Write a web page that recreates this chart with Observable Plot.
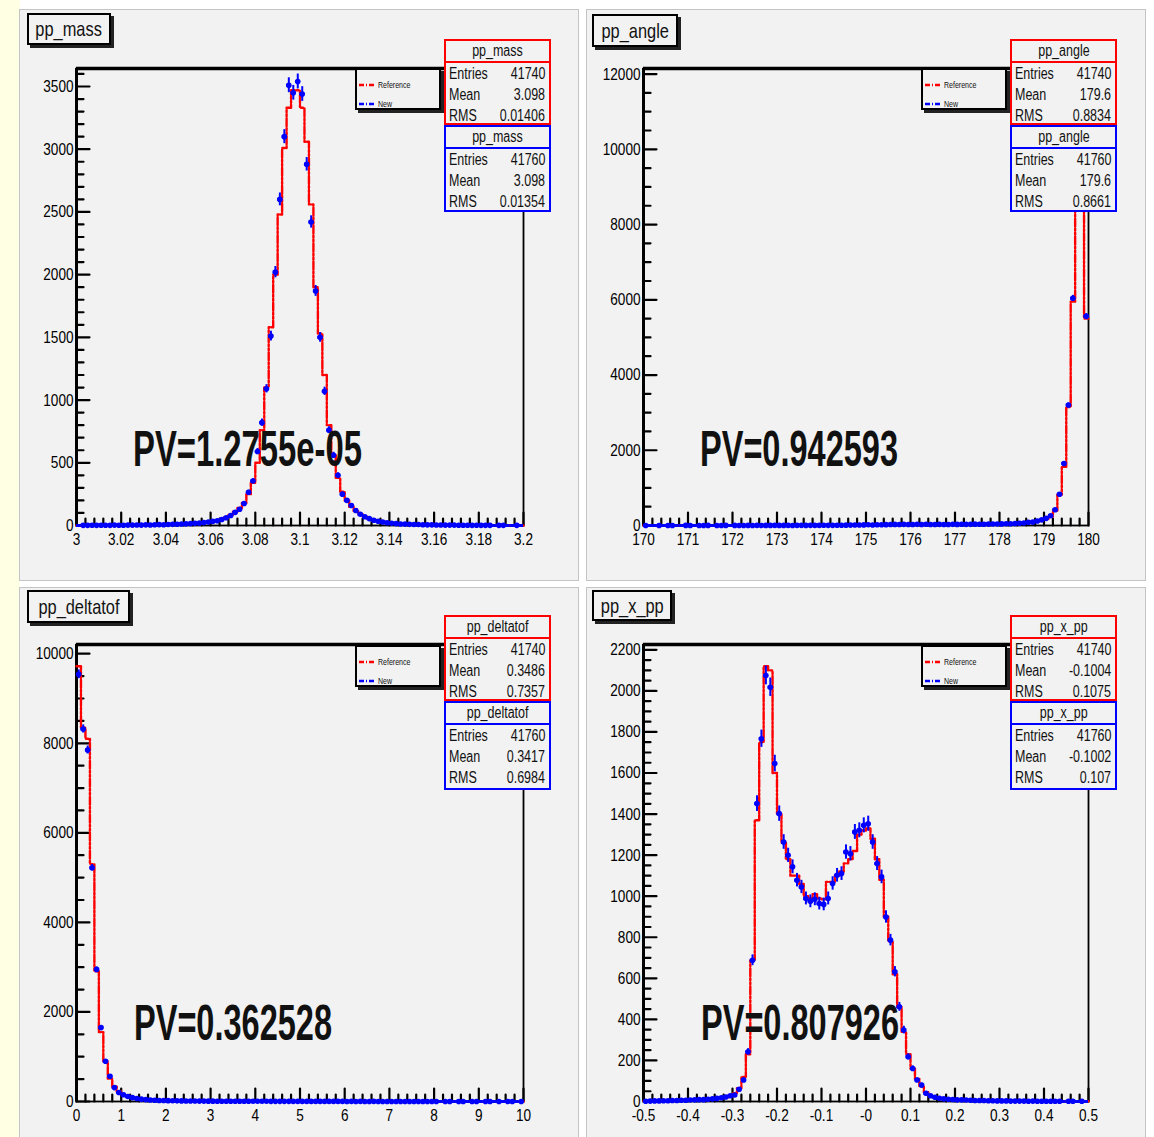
<!DOCTYPE html>
<html>
<head>
<meta charset="utf-8">
<script src="https://cdn.jsdelivr.net/npm/d3@7"></script>
<script src="https://cdn.jsdelivr.net/npm/@observablehq/plot@0.6"></script>
<style>
  html, body { margin: 0; padding: 0; background: #ffffff; }
  #page { position: relative; width: 1154px; height: 1137px; overflow: hidden; background: #ffffff;
          font-family: "Liberation Sans", Arial, sans-serif; color: #111; }
  .strip { position: absolute; left: 0; top: 0; width: 20px; height: 1137px; background: #ffffe4; }
  .panel { position: absolute; background: #f2f2f2; outline: 1px solid #c4c4c4; }
  .panel svg { position: absolute; left: 0; top: 0; overflow: visible; }
  .ov { position: absolute; box-sizing: border-box; }
  .title { border: 2px solid #000; box-shadow: 3px 3px 0 #222; background: #f2f2f2;
           font-size: 21px; display: flex; align-items: center; justify-content: center; overflow: visible; white-space: nowrap; }
  .legend { border: 2px solid #000; box-shadow: 3px 3px 0 #222; background: #f2f2f2; font-size: 9px; padding-top: 5px; }
  .legrow { display: flex; align-items: center; height: 19px; padding-left: 2px; white-space: nowrap; }
  .legrow svg { position: static; margin-right: 3px; }
  .stats { border: 2px solid; background: #f2f2f2; font-size: 16px; }
  .stats .hd { height: 20px; border-bottom: 2px solid; text-align: center; line-height: 20px; font-size: 16px; white-space: nowrap; }
  .stats .row { display: flex; justify-content: space-between; height: 21px; line-height: 21px; padding: 0 4px 0 3px; white-space: nowrap; }
  .sc { display: inline-block; transform: scaleX(0.78); }
  .sl { display: inline-block; transform: scaleX(0.78); transform-origin: 0 50%; }
  .sr { display: inline-block; transform: scaleX(0.78); transform-origin: 100% 50%; }
  .pv { position: absolute; white-space: nowrap; font-size: 50px; font-weight: bold; line-height: 1; transform-origin: 0 100%; color: #111; }
</style>
</head>
<body>
<div id="page"><div class="strip"></div></div>
<script>
// ---------------- data ----------------
const massEdges = [3.0, 3.2];
const massRef = [1,0,2,1,2,3,1,2,3,2, 3,2,4,3,5,4,6,5,8,7, 9,10,12,11,14,16,18,20,24,29,
  35,40,50,65,85,110,140,180,250,340, 500,760,1100,1580,2000,2480,3010,3330,3470,3470,
  3330,3060,2560,1900,1530,1200,800,560,380,270, 200,150,115,90,70,55,45,36,30,25,
  20,17,15,13,11,10,9,8,7,6, 5,5,4,4,3,3,2,3,2,2, 1,2,1,1,2,1,0,1,1,0];
const massNew = [0,1,1,2,1,2,2,1,3,2, 2,3,3,4,3,5,4,6,7,6, 8,9,10,12,13,15,17,19,23,27,
  33,38,48,62,80,105,130,175,265,355, 590,820,1090,1510,2020,2600,3100,3510,3450,3540,
  3440,2880,2420,1870,1500,1070,760,560,400,250, 200,160,120,90,70,55,42,34,28,22,
  18,15,12,11,9,8,8,6,5,5, 4,4,3,3,3,2,2,2,1,2, 1,1,1,0,1,1,0,0,1,0];

const angleEdges = [170, 180];
const angleRef = [0,1,0,0,1,0,2,0,1,1, 0,1,2,0,1,1,0,2,1,1, 1,2,1,0,2,1,3,1,2,2, 1,3,2,2,4,2,3,3,2,4,
  3,5,3,4,6, 8,12,10,15,18,14,22,16,20,25, 30,24,35,28,22,30,26,32,28,24,
  30,26,22,28,32,26,30,35,28,34, 30,36,32,40,38,45,42,50,55,60,
  70,80,95,110,140,180,240,400,820,1560,3150,5950,10700,11570,5500];
const angleNew = [1,0,0,1,0,1,1,0,0,2, 1,0,1,1,2,0,1,1,2,0, 2,1,1,2,1,3,1,2,2,3, 2,2,3,1,3,4,2,4,3,3,
  5,4,4,5,5, 9,10,13,12,16,19,15,20,18,23, 27,29,26,31,25,28,30,27,33,26,
  28,31,25,27,30,29,33,31,30,36, 33,34,37,38,41,43,46,48,52,58,
  65,85,90,120,150,190,260,420,830,1650,3200,6040,10800,11450,5560];

const deltaEdges = [0, 10];
const deltaRef = [9720,8350,8100,5300,2910,1550,900,510,330,225, 160,120,92,72,56,46,38,32,27,23,
  20,18,16,14,13,12,11,10,9,9, 8,8,7,7,6,6,6,5,5,5, 4,4,4,4,3,3,3,3,3,3,
  2,2,2,2,2,2,2,2,2,2, 2,1,2,1,2,1,1,1,2,1, 1,1,1,1,1,1,1,1,1,1,
  1,1,0,1,1,0,1,1,0,1, 1,0,1,0,1,1,0,1,0,1];
const deltaNew = [9540,8320,7850,5220,2950,1650,900,565,310,200, 150,110,86,66,52,42,35,29,24,21,
  19,17,15,13,12,11,10,9,9,8, 8,7,7,6,6,5,5,5,5,4, 4,4,4,3,3,3,3,3,2,3,
  2,2,2,2,2,2,2,2,2,2, 1,2,1,2,1,1,2,1,1,1, 1,1,1,1,1,1,1,1,1,1,
  1,0,1,1,0,1,1,0,1,1, 0,1,1,0,1,0,1,1,0,1];

const xppEdges = [-0.5, 0.5];
const xppRef = [2,3,2,4,3,5,4,6,5,7, 8,7,9,10,9,12,14,16,20,26,
  40,65,120,230,690,1370,1750,2120,2100,1600, 1400,1260,1180,1100,1100,1060,1000,990,1010,990,
  985,1070,1070,1100,1120,1160,1180,1220,1300,1320, 1330,1280,1180,1080,900,780,620,460,340,230,
  160,110,75,45, 30,22,17,14,12,10,9,8,7,6, 6,5,5,4,4,4,3,3,3,2, 2,2,2,1,2,1,1,1,1,1, 1,1,0,1,0,1];
const xppNew = [1,2,3,3,4,4,5,5,6,6, 7,8,9,9,11,13,15,18,22,28,
  32,60,105,242,688,1451,1767,2075,2018,1646, 1402,1264,1199,1143,1078,1045,989,975,985,964,
  960,989,1062,1102,1110,1215,1207,1313,1321,1345, 1353,1264,1159,1094,899,786,632,461,348,218,
  161,105,80,40, 28,21,16,13,11,10,8,8,7,6, 5,5,5,4,4,3,3,3,2,2, 2,2,1,2,1,1,1,1,1,1, 0,1,1,0,1,0];

// tick labels
const massXTicks = [3,3.02,3.04,3.06,3.08,3.1,3.12,3.14,3.16,3.18,3.2];
const massXLabels = ["3","3.02","3.04","3.06","3.08","3.1","3.12","3.14","3.16","3.18","3.2"];
const massYTicks = [0,500,1000,1500,2000,2500,3000,3500];
const angleXTicks = [170,171,172,173,174,175,176,177,178,179,180];
const angleXLabels = ["170","171","172","173","174","175","176","177","178","179","180"];
const angleYTicks = [0,2000,4000,6000,8000,10000,12000];
const deltaXTicks = [0,1,2,3,4,5,6,7,8,9,10];
const deltaXLabels = ["0","1","2","3","4","5","6","7","8","9","10"];
const deltaYTicks = [0,2000,4000,6000,8000,10000];
const xppXTicks = [-0.5,-0.4,-0.3,-0.2,-0.1,0,0.1,0.2,0.3,0.4,0.5];
const xppXLabels = ["-0.5","-0.4","-0.3","-0.2","-0.1","-0","0.1","0.2","0.3","0.4","0.5"];
const xppYTicks = [0,200,400,600,800,1000,1200,1400,1600,1800,2000,2200];

// stats box texts
const statsTitles = ["pp_mass","pp_angle","pp_deltatof","pp_x_pp"];
const refEntries = ["41740","41740","41740","41740"];
const newEntries = ["41760","41760","41760","41760"];
const refMean = ["3.098","179.6","0.3486","-0.1004"];
const newMean = ["3.098","179.6","0.3417","-0.1002"];
const refRMS = ["0.01406","0.8834","0.7357","0.1075"];
const newRMS = ["0.01354","0.8661","0.6984","0.107"];
const pvTexts = ["PV=1.2755e-05","PV=0.942593","PV=0.362528","PV=0.807926"];
const legendLabels = ["Reference","New"];

// ---------------- layout ----------------
const FONT = '"Liberation Sans", Arial, sans-serif';
const panels = [
  {left: 20, top: 10, w: 558, h: 570, m: [58, 55, 55, 56], edges: massEdges, ref: massRef, neu: massNew,
   xt: massXTicks, xl: massXLabels, xminor: 0.004, yt: massYTicks, yminor: 100,
   title: [7, 3, 84, 32], legend: [335, 58], stats: [424, 29, 86, 87], pv: [113, 460, 229]},
  {left: 587, top: 10, w: 558, h: 570, m: [58, 57, 55, 56], edges: angleEdges, ref: angleRef, neu: angleNew,
   xt: angleXTicks, xl: angleXLabels, xminor: 0.2, yt: angleYTicks, yminor: 500,
   title: [5, 4, 86, 33], legend: [334, 58], stats: [423, 29, 86, 87], pv: [113, 460, 198]},
  {left: 20, top: 588, w: 558, h: 549, m: [56, 55, 36, 56], edges: deltaEdges, ref: deltaRef, neu: deltaNew,
   xt: deltaXTicks, xl: deltaXLabels, xminor: 0.2, yt: deltaYTicks, yminor: 500,
   title: [7, 2, 103, 33], legend: [335, 57], stats: [424, 27, 86, 89], pv: [114, 456, 198]},
  {left: 587, top: 588, w: 558, h: 549, m: [56, 57, 36, 56], edges: xppEdges, ref: xppRef, neu: xppNew,
   xt: xppXTicks, xl: xppXLabels, xminor: 0.02, yt: xppYTicks, yminor: 50,
   title: [5, 2, 80, 31], legend: [334, 57], stats: [423, 27, 86, 89], pv: [114, 456, 198]}
];

const page = document.getElementById("page");

function makePlot(p) {
  const [lo, hi] = p.edges;
  const n = p.ref.length, bw = (hi - lo) / n;
  const ymax = 1.05 * d3.max(p.ref);
  const refPts = p.ref.map((v, i) => ({x: lo + i * bw, y: v}));
  refPts.push({x: hi, y: p.ref[n - 1]});
  const bins = p.neu.map((v, i) => ({x1: lo + i * bw, x2: lo + (i + 1) * bw, xc: lo + (i + 0.5) * bw, y: v, e: Math.sqrt(v)}));
  const xMinor = d3.range(lo, hi + bw / 100, p.xminor).filter(t => !p.xt.some(M => Math.abs(M - t) < p.xminor / 10));
  const yMinor = d3.range(0, ymax, p.yminor).filter(t => !p.yt.includes(Math.round(t)));
  const tick = {r: 0, stroke: "#000", strokeWidth: 2.2, anchor: "start"};
  const svg = Plot.plot({
    width: p.w, height: p.h,
    marginTop: p.m[0], marginRight: p.m[1], marginBottom: p.m[2], marginLeft: p.m[3],
    style: {background: "transparent", fontFamily: FONT, fontSize: "17px", color: "#000"},
    x: {domain: [lo, hi], label: null},
    y: {domain: [0, ymax], label: null},
    marks: [
      Plot.vector(yMinor, {x: lo, y: d => d, rotate: 90, length: 7, ...tick}),
      Plot.vector(p.yt, {x: lo, y: d => d, rotate: 90, length: 13, ...tick}),
      Plot.vector(xMinor, {x: d => d, y: 0, rotate: 0, length: 7, ...tick}),
      Plot.vector(p.xt, {x: d => d, y: 0, rotate: 0, length: 13, ...tick}),
      Plot.axisY({ticks: p.yt, tickSize: 0, tickPadding: 3, tickFormat: d => String(d), label: null, fontSize: 17}),
      Plot.axisX({ticks: p.xt, tickSize: 0, tickPadding: 7, tickFormat: (d, i) => p.xl[i], label: null, fontSize: 17}),
      Plot.frame({stroke: "#000", strokeWidth: 1.8}),
      Plot.ruleY([ymax], {stroke: "#000", strokeWidth: 3.5}),
      Plot.ruleX([lo], {stroke: "#000", strokeWidth: 3}),
      Plot.line(refPts, {x: "x", y: "y", curve: "step-after", stroke: "#ff0000", strokeWidth: 2.4, strokeDasharray: "8,2,2,2,2,2"}),
      Plot.ruleY(bins, {x1: "x1", x2: "x2", y: "y", stroke: "#0000ff", strokeWidth: 3}),
      Plot.ruleX(bins, {x: "xc", y1: d => d.y - d.e, y2: d => d.y + d.e, stroke: "#0000ff", strokeWidth: 2}),
      Plot.dot(bins.filter(d => d.y > 0), {x: "xc", y: "y", r: 2.8, fill: "#0000ff", stroke: "none"})
    ]
  });
  // condense tick labels horizontally (narrow Helvetica look of the original)
  svg.querySelectorAll("text").forEach(t => {
    const tr = t.getAttribute("transform");
    if (tr && tr.includes("translate")) t.setAttribute("transform", tr + " scale(0.8,1)");
  });
  return svg;
}

function legendLine(color, dash) {
  return `<svg width="16" height="6"><line x1="0" y1="3" x2="16" y2="3" stroke="${color}" stroke-width="2.5" stroke-dasharray="${dash}"/></svg>`;
}

panels.forEach((p, k) => {
  const div = document.createElement("div");
  div.className = "panel";
  Object.assign(div.style, {left: p.left + "px", top: p.top + "px", width: p.w + "px", height: p.h + "px"});
  page.appendChild(div);
  div.appendChild(makePlot(p));

  const t = document.createElement("div");
  t.className = "ov title";
  Object.assign(t.style, {left: p.title[0] + "px", top: p.title[1] + "px", width: p.title[2] + "px", height: p.title[3] + "px"});
  t.innerHTML = `<span class="sc">${statsTitles[k]}</span>`;
  div.appendChild(t);

  const lg = document.createElement("div");
  lg.className = "ov legend";
  Object.assign(lg.style, {left: p.legend[0] + "px", top: p.legend[1] + "px", width: "86px", height: "42px"});
  lg.innerHTML = `<div class="legrow">${legendLine("#ff0000", "5,2,1,2")}<span class="sl">${legendLabels[0]}</span></div>` +
                 `<div class="legrow">${legendLine("#0000ff", "5,2,1,2")}<span class="sl">${legendLabels[1]}</span></div>`;
  div.appendChild(lg);

  const boxes = [
    {color: "#ff0000", top: p.stats[1], h: p.stats[2], e: refEntries[k], m: refMean[k], r: refRMS[k]},
    {color: "#0000ff", top: p.stats[1] + p.stats[2], h: p.stats[3], e: newEntries[k], m: newMean[k], r: newRMS[k]}
  ];
  boxes.forEach(b => {
    const s = document.createElement("div");
    s.className = "ov stats";
    Object.assign(s.style, {left: p.stats[0] + "px", top: b.top + "px", width: "107px", height: b.h + "px", borderColor: b.color});
    s.innerHTML = `<div class="hd" style="border-color:${b.color}"><span class="sc">${statsTitles[k]}</span></div>` +
      `<div class="row"><span class="sl">Entries</span><span class="sr">${b.e}</span></div>` +
      `<div class="row"><span class="sl">Mean</span><span class="sr">${b.m}</span></div>` +
      `<div class="row"><span class="sl">RMS</span><span class="sr">${b.r}</span></div>`;
    div.appendChild(s);
  });

  const pv = document.createElement("div");
  pv.className = "pv";
  pv.textContent = pvTexts[k];
  div.appendChild(pv);
  const r = pv.getBoundingClientRect();
  pv.style.left = p.pv[0] + "px";
  pv.style.top = (p.pv[1] - r.height + 4) + "px";
  pv.style.transform = `scaleX(${p.pv[2] / r.width})`;
});
</script>
</body>
</html>
